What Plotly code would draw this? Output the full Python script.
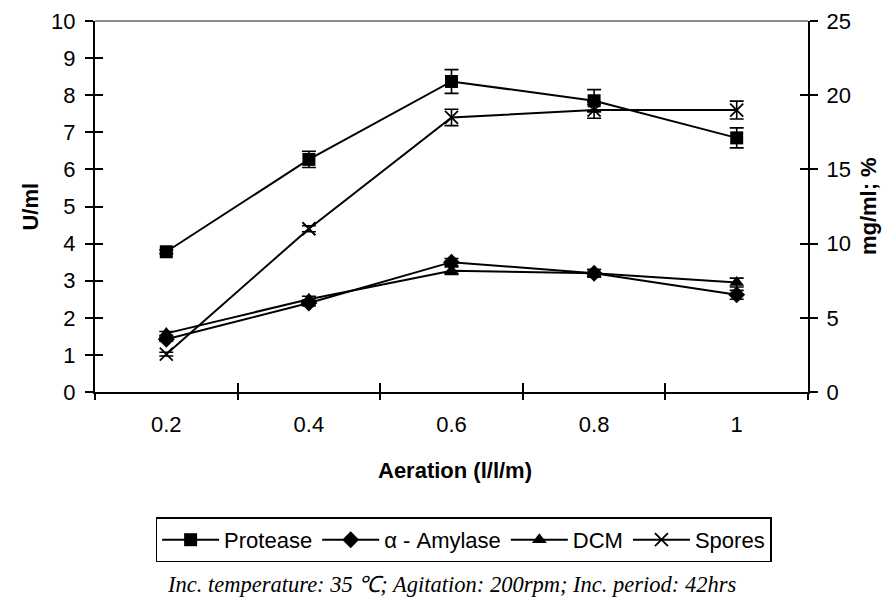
import plotly.graph_objects as go

# ---- data ----
aeration = ["0.2", "0.4", "0.6", "0.8", "1"]
protease = [3.78, 6.27, 8.37, 7.85, 6.85]
protease_err = [0.05, 0.22, 0.32, 0.30, 0.27]
amylase = [1.42, 2.40, 3.50, 3.20, 2.62]
amylase_err = [0.05, 0.08, 0.10, 0.10, 0.12]
dcm = [1.58, 2.50, 3.27, 3.20, 2.95]
dcm_err = [0.05, 0.08, 0.10, 0.10, 0.12]
spores = [1.02, 4.40, 7.40, 7.60, 7.60]
spores_err = [0.05, 0.08, 0.22, 0.22, 0.24]

left_ticks = list(range(0, 11))
right_ticks = list(range(0, 26, 5))

FONT = "Arial, Liberation Sans, sans-serif"
SERIF = "Times New Roman, Liberation Serif, serif"
BLACK = "#000000"
FS = 22

fig = go.Figure()

def add_series(name, y, err, symbol, size, open_line=False):
    marker = dict(symbol=symbol, size=size, color=BLACK,
                  line=dict(color=BLACK, width=1.8 if open_line else 0))
    fig.add_trace(go.Scatter(
        x=aeration, y=y, name=name, mode="lines+markers",
        line=dict(color=BLACK, width=2),
        marker=marker,
        error_y=dict(type="data", array=err, visible=True,
                     color=BLACK, thickness=1.6, width=7),
        xaxis="x", yaxis="y",
    ))

add_series("Protease", protease, protease_err, "square", 13)
add_series("α - Amylase", amylase, amylase_err, "diamond", 13)
add_series("DCM", dcm, dcm_err, "triangle-up", 13)
add_series("Spores", spores, spores_err, "x-thin-open", 13, open_line=True)

# invisible helper traces so the auxiliary axes are drawn
for xa, ya in [("x2", "y3"), ("x", "y2"), ("x2", "y4")]:
    fig.add_trace(go.Scatter(x=aeration, y=[None] * len(aeration), xaxis=xa, yaxis=ya,
                             showlegend=False, hoverinfo="skip", mode="lines"))

tickfont = dict(family=FONT, size=FS, color=BLACK)

common = dict(showgrid=False, zeroline=False, automargin=False)

# page body has an 8px default margin, so the figure is shifted accordingly
fig.update_layout(
    width=884, height=595,
    margin=dict(l=87, r=84, t=13, b=211, autoexpand=False),
    paper_bgcolor="white", plot_bgcolor="white",
    showlegend=True,
    legend=dict(orientation="h", x=0.517, xanchor="center", y=-0.338, yanchor="top",
                bordercolor=BLACK, borderwidth=1.5,
                font=dict(family=FONT, size=FS, color=BLACK),
                itemwidth=57, tracegroupgap=0),
    xaxis=dict(type="category", categoryorder="array", categoryarray=aeration,
               range=[-0.5, 4.5], tickson="boundaries", ticks="outside",
               ticklen=6, tickwidth=1.5, tickcolor=BLACK, ticklabelstandoff=12,
               showline=True, linecolor=BLACK, linewidth=2,
               tickfont=tickfont, anchor="y", **common),
    xaxis2=dict(type="category", categoryorder="array", categoryarray=aeration,
                range=[-0.5, 4.5], tickson="boundaries", ticks="inside",
                ticklen=9, tickwidth=1.5, tickcolor=BLACK, overlaying="x",
                showticklabels=False, showline=False,
                anchor="y", side="bottom", **common),
    yaxis=dict(range=[0, 10], tickvals=left_ticks, ticks="outside", ticklen=8,
               tickwidth=1.5, tickcolor=BLACK, showline=True, linecolor=BLACK,
               linewidth=2, tickfont=tickfont, ticklabelstandoff=5,
               anchor="x", **common),
    yaxis3=dict(range=[0, 10], tickvals=left_ticks, ticks="inside", ticklen=8,
                tickwidth=1.5, tickcolor=BLACK, overlaying="y", side="left",
                showticklabels=False, showline=False, anchor="x", **common),
    yaxis2=dict(range=[0, 25], tickvals=right_ticks, ticks="outside", ticklen=8,
                tickwidth=1.5, tickcolor=BLACK, overlaying="y", side="right",
                showline=True, linecolor=BLACK, linewidth=2,
                tickfont=tickfont, ticklabelstandoff=4, anchor="x", **common),
    yaxis4=dict(range=[0, 25], tickvals=right_ticks, ticks="inside", ticklen=8,
                tickwidth=1.5, tickcolor=BLACK, overlaying="y", side="right",
                showticklabels=False, showline=False, anchor="x", **common),
    shapes=[dict(type="line", xref="paper", yref="paper", x0=0, x1=1, y0=1, y1=1,
                 line=dict(color="#8c8c8c", width=2))],
    annotations=[
        dict(text="<b>U/ml</b>", xref="paper", yref="paper", x=-0.091, y=0.5,
             textangle=-90, showarrow=False, xanchor="center", yanchor="middle",
             font=dict(family=FONT, size=FS, color=BLACK)),
        dict(text="<b>mg/ml; %</b>", xref="paper", yref="paper", x=1.085, y=0.5,
             textangle=-90, showarrow=False, xanchor="center", yanchor="middle",
             font=dict(family=FONT, size=FS, color=BLACK)),
        dict(text="<b>Aeration (l/l/m)</b>", xref="paper", yref="paper", x=0.505, y=-0.212,
             showarrow=False, xanchor="center", yanchor="middle",
             font=dict(family=FONT, size=FS, color=BLACK)),
        dict(text="<i>Inc. temperature: 35 \u2103; Agitation: 200rpm; Inc. period: 42hrs</i>",
             xref="paper", yref="paper", x=0.5, y=-0.52, showarrow=False,
             xanchor="center", yanchor="middle",
             font=dict(family=SERIF, size=22.5, color=BLACK)),
    ],
)

fig.write_html("out.html")
